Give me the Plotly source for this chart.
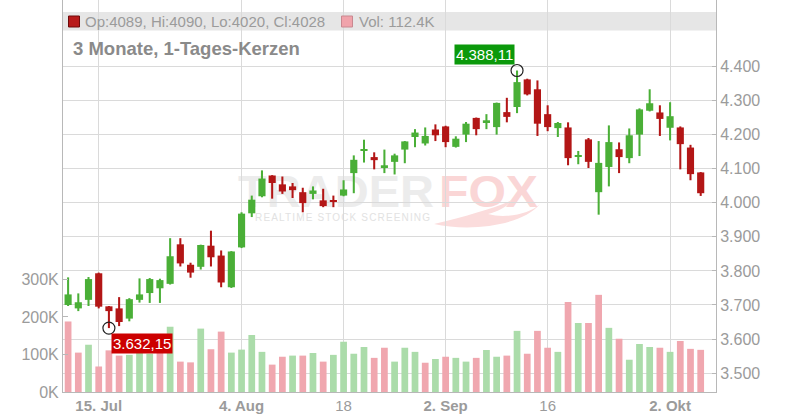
import base64
import plotly.graph_objects as go

# ---------------- data ----------------
dates = [
    "2025-07-10", "2025-07-11", "2025-07-14", "2025-07-15", "2025-07-16", "2025-07-17", "2025-07-18",
    "2025-07-21", "2025-07-22", "2025-07-23", "2025-07-24", "2025-07-25",
    "2025-07-28", "2025-07-29", "2025-07-30", "2025-07-31", "2025-08-01",
    "2025-08-04", "2025-08-05", "2025-08-06", "2025-08-07", "2025-08-08",
    "2025-08-11", "2025-08-12", "2025-08-13", "2025-08-14", "2025-08-15",
    "2025-08-18", "2025-08-19", "2025-08-20", "2025-08-21", "2025-08-22",
    "2025-08-25", "2025-08-26", "2025-08-27", "2025-08-28", "2025-08-29",
    "2025-09-02", "2025-09-03", "2025-09-04", "2025-09-05",
    "2025-09-08", "2025-09-09", "2025-09-10", "2025-09-11", "2025-09-12",
    "2025-09-15", "2025-09-16", "2025-09-17", "2025-09-18", "2025-09-19",
    "2025-09-22", "2025-09-23", "2025-09-24", "2025-09-25", "2025-09-26",
    "2025-09-29", "2025-09-30", "2025-10-01", "2025-10-02", "2025-10-03",
    "2025-10-06", "2025-10-07",
]
opens = [3700, 3690, 3715, 3793, 3696, 3690, 3660, 3715, 3735, 3749, 3762, 3878, 3818, 3812, 3874, 3845,
         3752, 3869, 3969, 4019, 4080, 4054, 4048, 4031, 4026, 4007, 4008, 4021, 4087, 4153, 4134, 4102,
         4120, 4156, 4193, 4174, 4215, 4224, 4164, 4200, 4249, 4234, 4222, 4266, 4281, 4362, 4333, 4260,
         4219, 4221, 4136, 4186, 4031, 4105, 4157, 4131, 4200, 4270, 4265, 4220, 4221, 4162, 4089]
highs = [3781, 3734, 3782, 3795, 3697, 3723, 3720, 3778, 3779, 3777, 3896, 3896, 3824, 3877, 3918, 3860,
         3858, 3972, 4021, 4095, 4081, 4077, 4058, 4044, 4048, 4041, 4021, 4066, 4139, 4185, 4148, 4156,
         4144, 4181, 4216, 4221, 4230, 4226, 4195, 4237, 4250, 4260, 4294, 4308, 4388.11, 4364, 4359, 4286,
         4237, 4236, 4152, 4190, 4181, 4227, 4177, 4218, 4277, 4333, 4286, 4295, 4224, 4170, 4090]
lows = [3697, 3682, 3697, 3690, 3632.15, 3638, 3652, 3707, 3706, 3706, 3760, 3813, 3780, 3804, 3813, 3752,
        3750, 3867, 3958, 4016, 4012, 4026, 4014, 3972, 4010, 3987, 3987, 4019, 4028, 4118, 4098, 4087,
        4083, 4116, 4163, 4168, 4181, 4163, 4162, 4178, 4198, 4216, 4200, 4236, 4263, 4315, 4196, 4210,
        4193, 4110, 4113, 4102, 3965, 4048, 4087, 4116, 4137, 4268, 4196, 4183, 4098, 4066, 4020]
closes = [3731, 3708, 3776, 3695, 3682, 3650, 3717, 3731, 3776, 3773, 3843, 3822, 3795, 3876, 3840, 3766,
          3857, 3968, 4009, 4071, 4058, 4033, 4037, 3999, 4036, 3990, 4005, 4039, 4126, 4156, 4125, 4110,
          4139, 4180, 4206, 4196, 4198, 4178, 4188, 4232, 4216, 4242, 4293, 4252, 4354, 4318, 4232, 4222,
          4234, 4131, 4139, 4120, 4117, 4178, 4134, 4198, 4274, 4292, 4246, 4254, 4172, 4084, 4028]
volumes_k = [188, 105, 126, 68, 111, 97, 99, 111, 102, 126, 174, 81, 79, 169, 114, 161,
             105, 113, 152, 107, 73, 94, 97, 97, 104, 81, 99, 134, 102, 120, 91, 118,
             81, 118, 107, 78, 88, 94, 91, 81, 91, 112, 94, 97, 163, 102, 163, 118,
             107, 240, 184, 184, 259, 171, 142, 86, 128, 120, 118, 107, 136, 115, 112.4]
close_before = 3745  # close of the session before the first shown day

price_ticks = [3500, 3600, 3700, 3800, 3900, 4000, 4100, 4200, 4300, 4400]
volume_ticks_k = [0, 100, 200, 300]
date_tick_dates = ["2025-07-15", "2025-08-04", "2025-08-18", "2025-09-02", "2025-09-16", "2025-10-02"]
date_tick_labels = ["15. Jul", "4. Aug", "18", "2. Sep", "16", "2. Okt"]
date_tick_bold = [True, True, False, True, False, True]
title_text = "3 Monate, 1-Tages-Kerzen"

# ---------------- styles ----------------
FONT = "Liberation Sans, Arial, sans-serif"
UP, DOWN = "#4aaf37", "#b31616"
VUP, VDOWN = "#abdcaa", "#f0a7af"
GRID = "#dadada"
AXIS = "#b8b8b8"
TXT = "#9b9b9b"

W, H = 800, 420
L, R, T, B = 63, 84, 0, 28
PW, PH = W - L - R, H - T - B


def px(x):
    return (x - L) / PW


def py(y):
    return (H - B - y) / PH


def de(v, dec=0):
    s = f"{v:,.{dec}f}"
    return s.replace(",", "X").replace(".", ",").replace("X", ".")


candle_col = [UP if c >= o else DOWN for o, c in zip(opens, closes)]
prev = [close_before] + closes[:-1]
vol_col = [VUP if c >= p else VDOWN for c, p in zip(closes, prev)]
volumes = [v * 1000 for v in volumes_k]

fig = go.Figure()
fig.add_trace(go.Bar(x=dates, y=volumes, marker=dict(color=vol_col, line=dict(width=0)),
                     width=0.66, yaxis="y", hoverinfo="skip"))
fig.add_trace(go.Bar(x=dates, y=[h - l for h, l in zip(highs, lows)], base=lows,
                     marker=dict(color=candle_col, line=dict(width=0)), width=0.2,
                     yaxis="y2", hoverinfo="skip"))
fig.add_trace(go.Bar(x=dates, y=[abs(c - o) for o, c in zip(opens, closes)],
                     base=[min(o, c) for o, c in zip(opens, closes)],
                     marker=dict(color=candle_col, line=dict(width=0)), width=0.7,
                     yaxis="y2", hoverinfo="skip"))

imax = highs.index(max(highs))
imin = lows.index(min(lows))
fig.add_trace(go.Scatter(x=[dates[imax], dates[imin]], y=[highs[imax], lows[imin]], mode="markers",
                         marker=dict(symbol="circle-open", size=12, color="#222", line=dict(width=1.2)),
                         yaxis="y2", hoverinfo="skip"))

# watermark as svg image below everything
svg = f'''<svg xmlns="http://www.w3.org/2000/svg" width="{W}" height="{H}" viewBox="0 0 {W} {H}">
<text x="238" y="207" font-family="Liberation Sans, Arial" font-weight="bold" font-size="45" fill="#ececec" textLength="196" lengthAdjust="spacingAndGlyphs">TRADER</text>
<text x="439" y="207" font-family="Liberation Sans, Arial" font-weight="bold" font-size="45" fill="#fad6d6" textLength="99" lengthAdjust="spacingAndGlyphs">FOX</text>
<text x="255" y="221" font-family="Liberation Sans, Arial" font-size="10" fill="#e2e2e2" textLength="175" lengthAdjust="spacing">REALTIME STOCK SCREENING</text>
<path d="M434,224 C470,232 522,226 540,204 C530,214 505,219 488,214 C500,211 508,206 512,200 C492,209 466,216 434,224 Z" fill="#fbdcdc"/>
</svg>'''
src = "data:image/svg+xml;base64," + base64.b64encode(svg.encode()).decode()

shapes = [
    dict(type="rect", xref="paper", yref="paper", x0=px(L), x1=px(W - R), y0=py(30.5), y1=py(12),
         fillcolor="#e6e6e6", line=dict(width=0), layer="below"),
    dict(type="rect", xref="paper", yref="paper", x0=px(68.5), x1=px(79.5), y0=py(27), y1=py(16),
         fillcolor="#b81a1a", line=dict(width=1, color="#6e0a0a"), layer="above"),
    dict(type="rect", xref="paper", yref="paper", x0=px(341.5), x1=px(352.5), y0=py(27), y1=py(16),
         fillcolor="#f0a3ab", line=dict(width=1, color="#c98890"), layer="above"),
]

annotations = [
    dict(xref="paper", yref="paper", x=px(83), y=py(21.5), xanchor="left", yanchor="middle", showarrow=False,
         text=f"Op:{opens[-1]}, Hi:{highs[-1]}, Lo:{lows[-1]}, Cl:{closes[-1]}",
         font=dict(family=FONT, size=15, color=TXT)),
    dict(xref="paper", yref="paper", x=px(357), y=py(21.5), xanchor="left", yanchor="middle", showarrow=False,
         text=f"Vol: {volumes_k[-1]}K", font=dict(family=FONT, size=15, color=TXT)),
    dict(xref="paper", yref="paper", x=px(71), y=py(48), xanchor="left", yanchor="middle", showarrow=False,
         text=title_text, font=dict(family=FONT, size=18.5, color="#8a8a8a", weight="bold")),
    dict(xref="x", yref="y2", x=dates[imax], y=highs[imax], xanchor="right", yanchor="bottom",
         xshift=-2, yshift=6, showarrow=False, text=de(highs[imax], 2), bgcolor="#0b990b", borderpad=1,
         font=dict(family=FONT, size=15, color="white")),
    dict(xref="x", yref="y2", x=dates[imin], y=lows[imin], xanchor="left", yanchor="top",
         xshift=2, yshift=-5, showarrow=False, text=de(lows[imin], 2), bgcolor="#cc0000", borderpad=1,
         font=dict(family=FONT, size=15, color="white")),
]

fig.update_layout(
    width=W, height=H, margin=dict(l=L, r=R, t=T, b=B, pad=0),
    paper_bgcolor="white", plot_bgcolor="white", showlegend=False, barmode="overlay",
    separators=",.", font=dict(family=FONT),
    xaxis=dict(type="category", range=[-0.5, 63.5], tickvals=date_tick_dates,
               ticktext=[f"<b>{t}</b>" if b else t for t, b in zip(date_tick_labels, date_tick_bold)],
               showgrid=True, gridcolor=GRID, gridwidth=1, showline=True, linecolor=AXIS, linewidth=1,
               ticks="", zeroline=False, tickfont=dict(family=FONT, size=15, color=TXT),
               fixedrange=True),
    yaxis=dict(range=[0, 1045000], tickvals=[v * 1000 for v in volume_ticks_k],
               ticktext=[f"{v}K" for v in volume_ticks_k], side="left", showgrid=False,
               showline=True, linecolor=AXIS, ticks="inside", ticklen=5, tickcolor=AXIS,
               zeroline=False, tickfont=dict(family=FONT, size=16, color=TXT)),
    yaxis2=dict(overlaying="y", side="right", range=[3444.6, 4595], tickvals=price_ticks,
                tickformat=",.0f", showgrid=True, gridcolor=GRID, showline=True, linecolor=AXIS,
                ticks="inside", ticklen=4, tickcolor=AXIS, zeroline=False,
                tickfont=dict(family=FONT, size=16, color=TXT)),
    shapes=shapes, annotations=annotations,
    images=[dict(source=src, xref="paper", yref="paper", x=px(0), y=py(0), sizex=W / PW, sizey=H / PH,
                 xanchor="left", yanchor="top", sizing="stretch", layer="below")],
)

fig.write_html("out.html", config={"displayModeBar": False},
               post_script="document.body.style.margin='0';document.body.style.padding='0';")
